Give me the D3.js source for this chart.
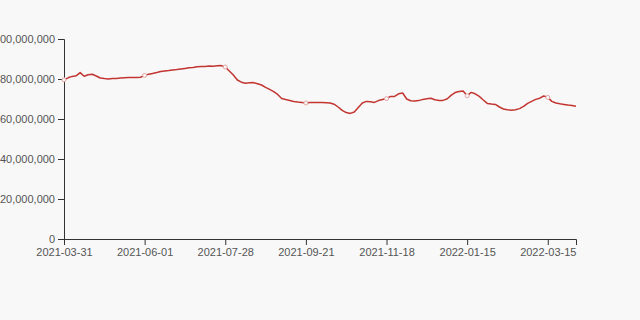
<!DOCTYPE html>
<html>
<head>
<meta charset="utf-8">
<script src="https://cdn.jsdelivr.net/npm/d3@7"></script>
<style>
  body { margin: 0; background: #f8f8f8; }
  svg { display: block; }
</style>
</head>
<body>
<svg width="640" height="320"></svg>
<script>
// tick labels, one every 20 points
const tickLabels = ["2021-03-31", "2021-06-01", "2021-07-28", "2021-09-21", "2021-11-18", "2022-01-15", "2022-03-15"];

// values in millions
const values = [
  79.6, 80.6, 81.3, 81.6, 83.2, 81.4, 82.1, 82.4, 81.5, 80.5,
  80.2, 80.0, 80.2, 80.3, 80.5, 80.6, 80.7, 80.8, 80.7, 80.9,
  81.8, 82.4, 82.8, 83.2, 83.7, 84.0, 84.2, 84.5, 84.7, 85.0,
  85.3, 85.6, 85.8, 86.1, 86.2, 86.3, 86.5, 86.4, 86.6, 86.7,
  86.0, 84.0, 82.0, 79.5, 78.4, 77.9, 78.1, 78.2, 77.6, 77.0,
  75.8, 74.8, 73.7, 72.3, 70.2, 69.7, 69.3, 68.8, 68.5, 68.3,
  68.0, 68.2, 68.3, 68.2, 68.2, 68.1, 68.0, 67.4, 66.0, 64.3,
  63.2, 62.8, 63.5, 65.8, 68.0, 68.8, 68.6, 68.3, 69.2, 69.7,
  70.2, 71.3, 71.3, 72.6, 73.0, 70.0, 69.1, 69.0, 69.2, 69.8,
  70.1, 70.4, 69.6, 69.3, 69.3, 70.0, 71.8, 73.2, 73.7, 74.0,
  71.6, 73.3, 72.6, 71.3, 69.5, 67.8, 67.5, 67.3, 66.0, 65.0,
  64.6, 64.4, 64.6, 65.2, 66.3, 67.8, 68.8, 69.8, 70.4, 71.5,
  70.8, 68.8, 68.0, 67.6, 67.3, 67.0, 66.8, 66.4
];

const yTicks = [0, 20, 40, 60, 80, 100];

const margin = {top: 39, right: 64, bottom: 81, left: 64};
const width = 640 - margin.left - margin.right;
const height = 320 - margin.top - margin.bottom;

let svg = d3.select("svg");
let g = svg.append("g").attr("transform", "translate(" + margin.left + "," + margin.top + ")");

const x = d3.scaleLinear().domain([0, values.length - 1]).range([0, width]);
const y = d3.scaleLinear().domain([0, 100]).range([height, 0]);

const fmt = d3.format(",");

let xAxis = g.append("g")
  .attr("transform", "translate(0," + height + ")")
  .call(d3.axisBottom(x)
    .tickValues(tickLabels.map((d, i) => i * 20))
    .tickFormat((d, i) => tickLabels[i]));

let yAxis = g.append("g")
  .call(d3.axisLeft(y)
    .tickValues(yTicks)
    .tickFormat(d => fmt(d * 1000000)));

[xAxis, yAxis].forEach(a => {
  a.attr("color", "#333");
  a.selectAll("text").attr("fill", "#555").style("font-family", "Liberation Sans, Arial, sans-serif").style("font-size", "11px");
});

const line = d3.line()
  .x((d, i) => x(i))
  .y(d => y(d));

g.append("path")
  .datum(values)
  .attr("fill", "none")
  .attr("stroke", "#c23531")
  .attr("stroke-width", 1.5)
  .attr("stroke-linejoin", "round")
  .attr("d", line);

// small hollow markers at the labelled points
g.selectAll("circle")
  .data(values.filter((d, i) => i % 20 == 0).map((d, k) => ({i: k * 20, v: d})))
  .join("circle")
  .attr("cx", d => x(d.i))
  .attr("cy", d => y(d.v))
  .attr("r", 2)
  .attr("fill", "#f8f8f8")
  .attr("stroke", "#e6a5a3")
  .attr("stroke-width", 1);
</script>
</body>
</html>
